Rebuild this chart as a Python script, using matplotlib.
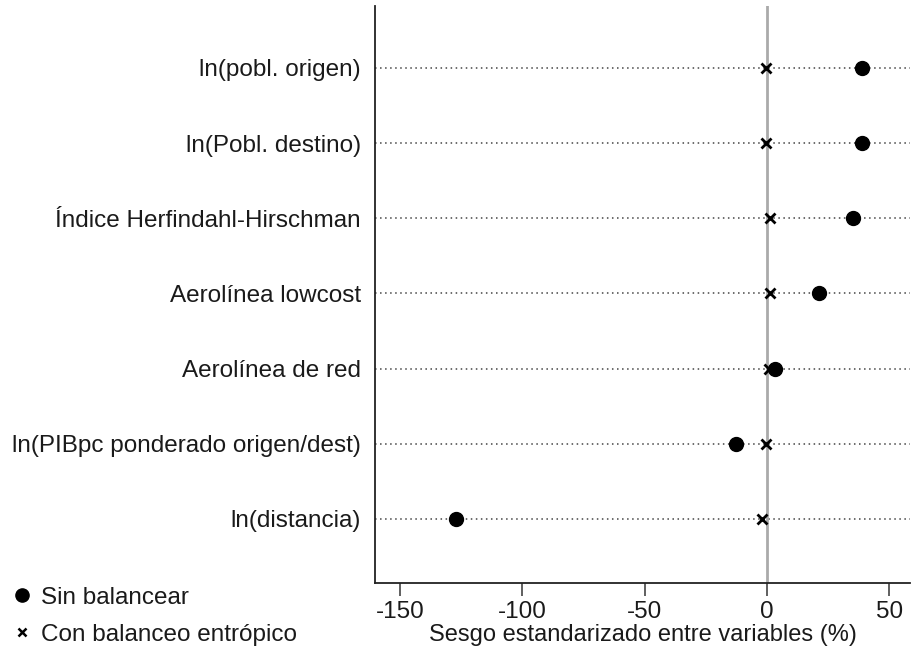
import numpy as np
import matplotlib.pyplot as plt
from matplotlib.lines import Line2D

plt.rcParams['font.family'] = ['Liberation Sans', 'DejaVu Sans']

# variables, bottom to top
variables = ["ln(distancia)",
             "ln(PIBpc ponderado origen/dest)",
             "Aerolínea de red",
             "Aerolínea lowcost",
             "Índice Herfindahl-Hirschman",
             "ln(Pobl. destino)",
             "ln(pobl. origen)"]
sin_balancear = [-127.1, -12.7, 3.4, 21.4, 35.2, 38.9, 39.0]
con_balanceo = [-2.2, -0.5, 1.0, 1.2, 1.2, -0.5, -0.4]
xticks = [-150, -100, -50, 0, 50]

FS = 17.5

fig = plt.figure(figsize=(9.12, 6.47), dpi=100)
ax = fig.add_axes([0.411, 0.099, 0.587, 0.892])

ypos = np.arange(1, len(variables) + 1)

# dotted guide lines for each variable
for y in ypos:
    ax.axhline(y, color='#444444', linestyle=(0, (1, 2.3)), linewidth=1.1, zorder=1)
ax.axvline(0, color='#aaaaaa', linewidth=2, zorder=2)

ax.plot(sin_balancear, ypos, 'o', color='black', markersize=10, zorder=3)
ax.plot(con_balanceo, ypos, 'x', color='black', markersize=6.5,
        markeredgewidth=2, zorder=4)

ax.set_xlim(-160.3, 58.5)
ax.set_ylim(0.149, 7.825)
ax.set_yticks(ypos)
ax.set_yticklabels(variables, fontsize=FS, color='#1a1a1a')
ax.tick_params(axis='y', length=0, pad=10)
ax.set_xticks(xticks)
ax.set_xticklabels([str(t) for t in xticks], fontsize=FS, color='#1a1a1a')
ax.tick_params(axis='x', length=9, width=1.2, color='#444444', pad=4)
ax.set_xlabel("Sesgo estandarizado entre variables (%)", fontsize=17, labelpad=1,
              color='#1a1a1a')

for side in ['top', 'right']:
    ax.spines[side].set_visible(False)
for side in ['left', 'bottom']:
    ax.spines[side].set_linewidth(1.3)
    ax.spines[side].set_color('#222222')

handles = [Line2D([], [], marker='o', color='black', linestyle='none', markersize=9.5),
           Line2D([], [], marker='x', color='black', linestyle='none',
                  markersize=5.5, markeredgewidth=1.8)]
leg = fig.legend(handles, ["Sin balancear", "Con balanceo entrópico"],
                 loc='upper left', bbox_to_anchor=(0.005, 0.108), frameon=False,
                 fontsize=FS, handlelength=0.6, handletextpad=0.5, labelspacing=0.62,
                 borderaxespad=0.0)
for t in leg.get_texts():
    t.set_color('#1a1a1a')

plt.savefig("out.png")
